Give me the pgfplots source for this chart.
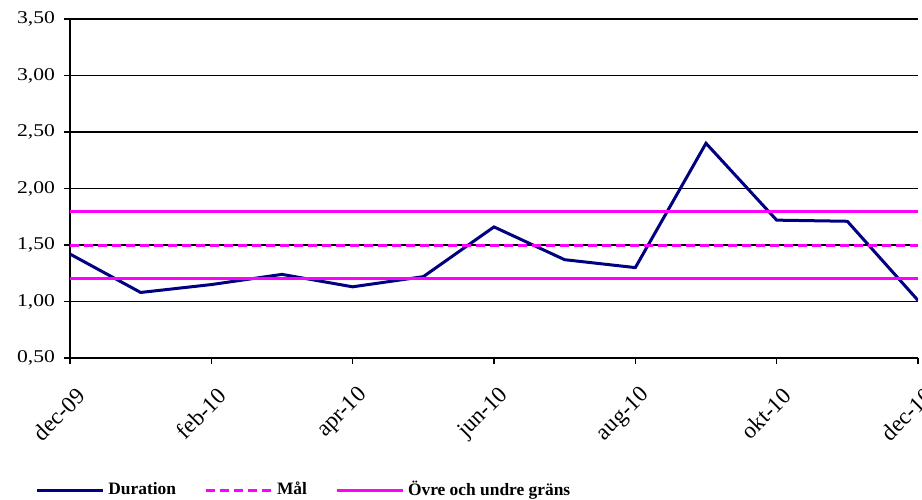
\documentclass[border=0pt]{standalone}
\usepackage{fontspec}
\setmainfont{Liberation Serif}
\newfontfamily\stretched{Liberation Serif}[FakeStretch=1.2]
\usepackage{pgfplots}
\pgfplotsset{compat=1.18}
\definecolor{navy}{RGB}{0,0,128}
\definecolor{mag}{RGB}{255,0,255}
\begin{document}
\begin{tikzpicture}
\begin{axis}[
  at={(0,0)}, anchor=south west,
  scale only axis,
  width=424pt, height=169.5pt,
  xmin=0, xmax=12, ymin=0.5, ymax=3.5,
  xtick={0,2,4,6,8,10,12},
  xticklabels={dec-09,feb-10,apr-10,jun-10,aug-10,okt-10,dec-10},
  ytick={0.5,1,...,3.5},
  axis lines*=left,
  axis line style={black, line width=1pt},
  tick align=outside,
  major tick length=3pt,
  tick style={black, line width=0.8pt},
  ymajorgrids,
  grid style={black, line width=0.9pt},
  /pgf/number format/.cd, fixed, fixed zerofill, precision=2, use comma, assume math mode=true,
  /pgfplots/.cd,
  yticklabel style={font=\stretched\fontsize{9pt}{10pt}\selectfont, xshift=-1pt},
  xticklabel style={font=\fontsize{11.5pt}{13pt}\selectfont, rotate=45, anchor=east, xshift=-2.6pt, yshift=-13.8pt},
  legend style={at={(axis description cs:0,0)}, anchor=west, xshift=-17.5pt, yshift=-66pt, draw=none, fill=none,
    font=\bfseries\fontsize{8.7pt}{10pt}\selectfont, inner sep=0pt,
    /tikz/every even column/.append style={column sep=12pt}},
  legend columns=3,
  legend cell align=left,
  legend image code/.code={\draw[#1] (0pt,0pt) -- (33pt,0pt);},
]
\addplot[navy, line width=1.5pt] coordinates {
(0,1.42) (1,1.08) (2,1.15) (3,1.24) (4,1.13) (5,1.22) (6,1.66)
(7,1.37) (8,1.30) (9,2.40) (10,1.72) (11,1.71) (12,1.01)};
\addlegendentry{Duration}
\addplot[mag, line width=1.5pt, dash pattern=on 4.5pt off 2.5pt] coordinates {(0,1.5) (12,1.5)};
\addlegendentry{Mål}
\addplot[mag, line width=1.5pt] coordinates {(0,1.8) (12,1.8)};
\addlegendentry{Övre och undre gräns}
\addplot[mag, line width=1.5pt, forget plot] coordinates {(0,1.2) (12,1.2)};
\end{axis}
\pgfresetboundingbox
\useasboundingbox (-35pt,-70.5pt) rectangle (426pt,179pt);
\end{tikzpicture}
\end{document}
